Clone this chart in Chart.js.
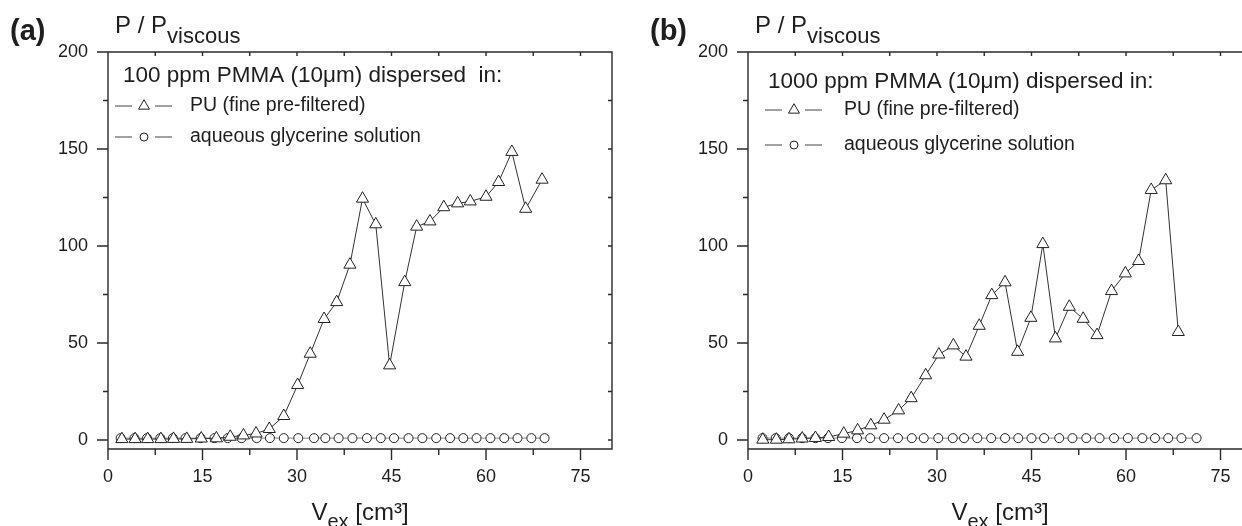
<!DOCTYPE html>
<html>
<head>
<meta charset="utf-8">
<script src="https://cdn.jsdelivr.net/npm/chart.js@4.4.0/dist/chart.umd.min.js"></script>
<style>
  html, body { margin: 0; padding: 0; background: #fff; overflow: hidden; }
  body { width: 1242px; height: 526px; position: relative; }
  canvas { position: absolute; top: 0; }
  #chartA { left: 0; }
  #chartB { left: 640px; }
</style>
</head>
<body>
<canvas id="chartA" width="640" height="526"></canvas>
<canvas id="chartB" width="640" height="526"></canvas>
<script>
// tick values
const xMajor = [0, 15, 30, 45, 60, 75];
const xMinor = [7.5, 22.5, 37.5, 52.5, 67.5];
const yMajor = [0, 50, 100, 150, 200];
const yMinor = [25, 75, 125, 175];

const puLabel = 'PU (fine pre-filtered)';
const glyLabel = 'aqueous glycerine solution';

// panel (a): 100 ppm
const aPuX = [2.2, 4.3, 6.3, 8.4, 10.4, 12.5, 14.8, 17.2, 19.4, 21.5, 23.5, 25.6, 27.9, 30.1, 32.1, 34.3,
  36.3, 38.4, 40.4, 42.5, 44.7, 47.1, 49.0, 51.1, 53.3, 55.5, 57.5, 60.0, 62.0, 64.1, 66.3, 68.9];
const aPuY = [0.5, 0.5, 0.5, 0.5, 0.6, 0.6, 0.8, 0.9, 1.7, 2.4, 3.4, 5.7, 12.4, 28.4, 44.5, 62.4,
  71.1, 90.4, 124.4, 111.2, 38.5, 81.4, 110, 112.7, 120, 122, 123, 125.4, 133, 148.5, 119.2, 134.2];
const aGlyX = [2.0, 4.2, 6.2, 8.3, 10.3, 12.3, 14.7, 16.9, 19.0, 21.2, 23.6, 25.7, 27.9, 30.2, 32.7, 34.5,
  36.6, 38.8, 41.1, 43.3, 45.4, 47.7, 49.9, 52.1, 54.3, 56.4, 58.5, 60.7, 62.9, 65.0, 67.2, 69.3];
const aGlyY = [1, 1, 1, 1, 1, 1, 1, 1, 1, 1, 1, 1, 1, 1, 1, 1,
  1, 1, 1, 1, 1, 1, 1, 1, 1, 1, 1, 1, 1, 1, 1, 1];

// panel (b): 1000 ppm
const bPuX = [2.35, 4.5, 6.5, 8.6, 10.7, 12.8, 15.2, 17.4, 19.5, 21.6, 23.9, 25.9, 28.2, 30.3, 32.6, 34.6,
  36.7, 38.7, 40.8, 42.8, 44.9, 46.8, 48.8, 51.0, 53.2, 55.4, 57.7, 59.9, 62.0, 64.0, 66.3, 68.3];
const bPuY = [0.2, 0.2, 0.4, 0.8, 1.1, 1.6, 3.3, 5.0, 7.6, 10.5, 15.3, 21.6, 33.4, 44.1, 48.8, 43.0,
  58.9, 74.7, 81.3, 45.5, 63.0, 101, 52.4, 68.7, 62.5, 54.1, 76.8, 85.9, 92.3, 128.9, 133.9, 55.7];
const bGlyX = [2.3, 4.4, 6.5, 8.6, 10.7, 12.7, 14.9, 17.3, 19.4, 21.6, 23.8, 26.0, 27.9, 30.2, 32.5, 34.3,
  36.4, 38.6, 40.8, 42.9, 45.0, 47.0, 49.4, 51.5, 53.7, 55.8, 58.1, 60.3, 62.6, 64.6, 66.7, 68.8, 71.2];
const bGlyY = [1, 1, 1, 1, 1, 1, 1, 1, 1, 1, 1, 1, 1, 1, 1, 1,
  1, 1, 1, 1, 1, 1, 1, 1, 1, 1, 1, 1, 1, 1, 1, 1, 1];

const FONT = "'Liberation Sans', Arial, Helvetica, sans-serif";
const INK = '#1e1e1e';
Chart.defaults.font.family = FONT;
Chart.defaults.color = INK;

// triangle / circle like chart.js draws them
const drawMark = (ctx, style, r, cx, cy) => {
  ctx.beginPath();
  if (style === 'triangle') {
    const h = r * Math.cos(Math.PI / 6);
    ctx.moveTo(cx, cy - r);
    ctx.lineTo(cx + h, cy + r / 2);
    ctx.lineTo(cx - h, cy + r / 2);
    ctx.closePath();
  } else {
    ctx.arc(cx, cy, r, 0, Math.PI * 2);
  }
  ctx.fill();
  ctx.stroke();
};

// text with subscript parts: [text, size, dy]
const richText = (ctx, parts, x, y, center) => {
  let w = 0;
  parts.forEach(p => { ctx.font = `${p[1]}px ${FONT}`; w += ctx.measureText(p[0]).width; });
  let cx = center ? x - w / 2 : x;
  parts.forEach(p => {
    ctx.font = `${p[1]}px ${FONT}`;
    ctx.fillText(p[0], cx, y + p[2]);
    cx += ctx.measureText(p[0]).width;
  });
};

// frame, minor ticks, titles and legend
const decor = {
  id: 'decor',
  afterDraw(chart, args, o) {
    const { ctx, chartArea: a, scales: { x, y } } = chart;
    ctx.save();
    ctx.strokeStyle = '#2a2a2a';
    ctx.lineWidth = 1.4;
    ctx.beginPath();
    ctx.rect(a.left, a.top, a.right - a.left, a.bottom - a.top);
    const seg = (x1, y1, x2, y2) => { ctx.moveTo(x1, y1); ctx.lineTo(x2, y2); };
    xMajor.forEach(v => { const p = x.getPixelForValue(v); seg(p, a.bottom, p, a.bottom + 11); seg(p, a.top, p, a.top + 4); });
    xMinor.forEach(v => { const p = x.getPixelForValue(v); seg(p, a.bottom, p, a.bottom + 6); seg(p, a.top, p, a.top + 4); });
    yMajor.forEach(v => { const p = y.getPixelForValue(v); seg(a.left - 11, p, a.left, p); seg(a.right - 4, p, a.right, p); });
    yMinor.forEach(v => { const p = y.getPixelForValue(v); seg(a.left - 5, p, a.left, p); seg(a.right - 4, p, a.right, p); });
    ctx.stroke();

    ctx.fillStyle = INK;
    ctx.textBaseline = 'alphabetic';
    ctx.textAlign = 'left';
    ctx.font = `bold 29px ${FONT}`;
    ctx.fillText(o.tag, 10, 40);

    // axis titles
    richText(ctx, [['P / P', 24, 0], ['viscous', 22, 10]], 115, 33, false);
    richText(ctx, [['V', 24, 0], ['ex', 20, 8], [' [cm³]', 24, 0]], (a.left + a.right) / 2, 520, true);

    // legend
    ctx.font = `${o.titleSize}px ${FONT}`;
    ctx.fillText(o.legendTitle, o.titleX, o.titleY);
    chart.data.datasets.forEach((ds, i) => {
      const ry = o.rows[i];
      ctx.strokeStyle = '#444';
      ctx.lineWidth = 1;
      ctx.beginPath();
      seg(o.sampleX, ry, o.sampleX + 17, ry);
      seg(o.sampleX + 40, ry, o.sampleX + 57, ry);
      ctx.stroke();
      ctx.fillStyle = '#fff';
      ctx.strokeStyle = '#222';
      drawMark(ctx, ds.pointStyle, o.markR[i], o.sampleX + 29, ry);
      ctx.fillStyle = INK;
      ctx.textBaseline = 'middle';
      ctx.font = `${o.rowSize}px ${FONT}`;
      ctx.fillText(ds.label, o.textX, ry);
    });
    ctx.restore();
  }
};

const makePanel = (id, puX, puY, glyX, glyY, deco) => new Chart(document.getElementById(id), {
  type: 'scatter',
  data: {
    datasets: [
      {
        label: puLabel,
        data: puX.map((v, i) => ({ x: v, y: puY[i] })),
        showLine: true,
        borderColor: '#333',
        borderWidth: 1,
        pointStyle: 'triangle',
        pointRadius: 7,
        pointBackgroundColor: '#fff',
        pointBorderColor: '#222',
        pointBorderWidth: 1,
      },
      {
        label: glyLabel,
        data: glyX.map((v, i) => ({ x: v, y: glyY[i] })),
        showLine: true,
        borderColor: '#555',
        borderWidth: 0.7,
        pointStyle: 'circle',
        pointRadius: 4.5,
        pointBackgroundColor: '#fff',
        pointBorderColor: '#222',
        pointBorderWidth: 1,
      },
    ],
  },
  options: {
    responsive: false,
    animation: false,
    layout: { padding: { left: 50, top: 52, right: 28, bottom: 0 } },
    plugins: {
      legend: { display: false },
      tooltip: { enabled: false },
      decor: deco,
    },
    scales: {
      x: {
        type: 'linear',
        min: 0,
        max: 80,
        afterBuildTicks: s => { s.ticks = xMajor.map(v => ({ value: v })); },
        afterFit: s => { s.height = 77; },
        grid: { display: true, drawOnChartArea: false, drawTicks: true, tickLength: 10, color: 'rgba(0,0,0,0)' },
        border: { display: false },
        ticks: { padding: 7, color: INK, font: { size: 18 }, maxRotation: 0, autoSkip: false },
      },
      y: {
        type: 'linear',
        min: -4.6,
        max: 200,
        afterBuildTicks: s => { s.ticks = yMajor.map(v => ({ value: v })); },
        afterFit: s => { s.width = 58; },
        grid: { display: true, drawOnChartArea: false, drawTicks: true, tickLength: 10, color: 'rgba(0,0,0,0)' },
        border: { display: false },
        ticks: { padding: 10, color: INK, font: { size: 18 }, autoSkip: false },
      },
    },
  },
  plugins: [decor],
});

makePanel('chartA', aPuX, aPuY, aGlyX, aGlyY, {
  tag: '(a)', legendTitle: '100 ppm PMMA (10μm) dispersed  in:',
  titleX: 123, titleY: 82, titleSize: 22.5, rows: [106, 137], sampleX: 115, textX: 190, rowSize: 19.5,
  markR: [6.3, 4],
});
makePanel('chartB', bPuX, bPuY, bGlyX, bGlyY, {
  tag: '(b)', legendTitle: '1000 ppm PMMA (10μm) dispersed in:',
  titleX: 128, titleY: 88, titleSize: 22.5, rows: [110, 145], sampleX: 125, textX: 204, rowSize: 19.5,
  markR: [6.3, 4],
});
</script>
</body>
</html>
